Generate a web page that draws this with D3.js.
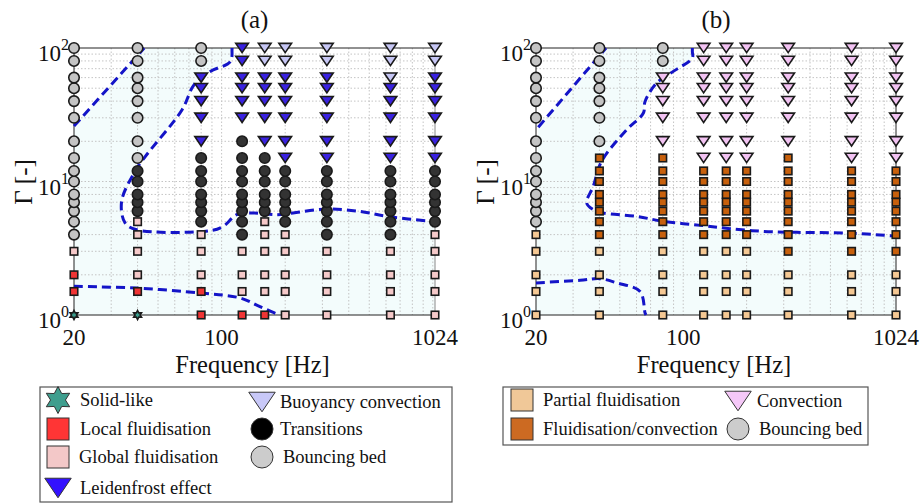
<!DOCTYPE html>
<html><head><meta charset="utf-8">
<script src="https://cdn.jsdelivr.net/npm/d3@7"></script>
<style>
html,body{margin:0;padding:0;background:#fff;}
svg text{font-family:'Liberation Serif','Times New Roman',Times,serif;fill:#111;}
</style></head>
<body><svg id="chart" width="920" height="504"></svg>
<script>
// ---------------- DATA ----------------
const freqs = [20, 40, 80, 125, 160, 200, 315, 630, 1024];
const gammaLevels = [1, 1.5, 2, 3, 4, 5, 6, 7, 8, 10, 12, 15, 20, 30, 40, 50, 60, 80, 100];
const xTickLabels = ["20", "100", "1024"];
const xTickValues = [20, 100, 1024];
const yTickValues = [1, 10, 100];
const yTickExponents = ["0", "1", "2"];

// Panel (a) regime per column (bottom→top, one code per gamma level)
// S solid-like, L local fl., G global fl., F Leidenfrost, B buoyancy conv., T transitions, O bouncing bed
const regimesA = [
  "SLLGOOOOOOOOOOOOOOO",
  "SLGGGGTTTTTOOOOOOOO",
  "LLGGGTTTTTTTFFFFFOO",
  "LGGGTTTTTTTTTFFFFFF",
  "LGGGGGTTTTTTFFFFFBB",
  "GGGGGTTTTTTFFFFFFBB",
  "GGGGTTTTTTTFFFFFFBB",
  "GGGGTTTTTTTFFFFFBBB",
  "GGGGGTTTTTTFFFFFFBB"
];
// Panel (b): P partial fl., C fluidisation/convection, V convection, O bouncing bed
const regimesB = [
  "PPPPPOOOOOOOOOOOOOO",
  "PPPPCCCCCCCCOOOOOOO",
  "PPPPCCCCCCCCVVVVVOO",
  "PPPPCCCCCCCVVVVVVVV",
  "PPPPCCCCCCCVVVVVVVV",
  "PPPPCCCCCCCVVVVVVVV",
  "PPPCCCCCCCCCVVVVVVV",
  "PPPCCCCCCCCVVVVVVVV",
  "PPPCCCCCCCCVVVVVVVV"
];

// Dashed regime boundaries [frequency, gamma]
const boundaryA1 = [[20, 26], [43, 100]];
const boundaryA2 = [[112, 100], [112, 97], [110, 79], [88, 66.5], [74, 53], [65, 34.5], [43.4, 15.3], [38.9, 11.9],
  [33.6, 7.1], [34.9, 4.9], [39.6, 4.35], [88, 4.28], [101.5, 4.6], [118, 5.64], [141, 5.81], [182, 5.64],
  [218, 5.81], [315, 6.22], [452, 5.97], [605, 5.48], [1024, 5.0]];
const boundaryA3 = [[20, 1.64], [39.6, 1.59], [79.6, 1.46], [122.6, 1.34], [151, 1.16], [182, 1.02], [189, 1.0]];

const boundaryB1 = [[20.5, 25.5], [43, 100]];
const boundaryB2 = [[110.5, 100], [110.5, 94], [110.5, 84], [89.7, 66.8], [74.8, 54.7], [65.9, 39.8], [64.7, 32.6],
  [53.9, 24.4], [41, 14.2], [37.4, 9.2], [34.8, 6.9], [37.4, 6.15], [41.7, 5.81], [60.1, 5.48], [80.5, 5.03],
  [124.6, 4.67], [166.8, 4.43], [240, 4.23], [346, 4.16], [598, 4.11], [1024, 3.9]];
const boundaryB3 = [[20, 1.74], [32.4, 1.82], [40.3, 1.87], [48.3, 1.74], [62.4, 1.5], [65.9, 1.035], [66.6, 1.0]];

const legendA = [
  {code: "S", label: "Solid-like"},
  {code: "L", label: "Local fluidisation"},
  {code: "G", label: "Global fluidisation"},
  {code: "F", label: "Leidenfrost effect"},
  {code: "B", label: "Buoyancy convection"},
  {code: "T", label: "Transitions"},
  {code: "O", label: "Bouncing bed"}
];
const legendB = [
  {code: "P", label: "Partial fluidisation"},
  {code: "C", label: "Fluidisation/convection"},
  {code: "V", label: "Convection"},
  {code: "O", label: "Bouncing bed"}
];

// ---------------- STYLE ----------------
const FONT = "'Liberation Serif', 'Times New Roman', Times, serif";
const style = {
  S: {shape: "hex", fill: "#3a9c8c", legendFill: "#3f9e8e"},
  L: {shape: "square", fill: "#f03434", legendFill: "#ff3535"},
  G: {shape: "square", fill: "#f5c9c9", legendFill: "#f3c8c8"},
  F: {shape: "tri", fill: "#3a22e0", legendFill: "#3311ff"},
  B: {shape: "tri", fill: "#c6c6f4", legendFill: "#c8c8f8"},
  T: {shape: "circle", fill: "#333333", legendFill: "#000000"},
  O: {shape: "circle", fill: "#c4c4c4", legendFill: "#cccccc"},
  P: {shape: "square", fill: "#f5c893", legendFill: "#f0c898"},
  C: {shape: "square", fill: "#c8600c", legendFill: "#cc6a22"},
  V: {shape: "tri", fill: "#f2c2f2", legendFill: "#f5c8f8"}
};

const svg = d3.select("#chart");

function hexPath(r) {
  const pts = [];
  for (let i = 0; i < 12; i++) {
    const a = -Math.PI / 2 + i * Math.PI / 6;
    const rr = i % 2 === 0 ? r : r * 0.55;
    pts.push([rr * Math.cos(a), rr * Math.sin(a)]);
  }
  return "M" + pts.map(p => p.join(",")).join("L") + "Z";
}

function drawMarker(g, shape, cx, cy, size, fill, stroke, sw) {
  let el;
  if (shape === "circle") {
    el = g.append("circle").attr("cx", cx).attr("cy", cy).attr("r", size / 2);
  } else if (shape === "square") {
    el = g.append("rect").attr("x", cx - size / 2).attr("y", cy - size / 2).attr("width", size).attr("height", size);
  } else if (shape === "tri") {
    const w = size * 1.15, h = size * 0.85;
    el = g.append("path").attr("d", `M${cx - w / 2},${cy - h / 2}L${cx + w / 2},${cy - h / 2}L${cx},${cy + h / 2}Z`);
  } else {
    el = g.append("path").attr("d", hexPath(size / 2)).attr("transform", `translate(${cx},${cy})`);
  }
  el.attr("fill", fill).attr("stroke", stroke).attr("stroke-width", sw).attr("stroke-linejoin", "miter");
  return el;
}

const markerSize = {circle: 10.5, square: 7.5, tri: 11, hex: 9};

function panel(opts) {
  const {x0, x1, y0, y1, regimes, bounds, title, rightColor} = opts;
  const x = d3.scaleLog().domain([20, 1024]).range([x0, x1]);
  const y = d3.scaleLog().domain([1, 100]).range([y1, y0]);
  const g = svg.append("g").attr("font-family", FONT);

  // faint cyan fill
  const fillPts = [...bounds[0], ...bounds[1], [1024, 1], [20, 1]];
  g.append("path")
    .attr("d", d3.line().x(d => x(d[0])).y(d => y(d[1]))(fillPts) + "Z")
    .attr("fill", "#f3fcfc");

  // grid
  const xGrid = [30, 40, 50, 60, 70, 80, 90, 100, 200, 300, 400, 500, 600, 700, 800, 900, 1000];
  const yGrid = [2, 3, 4, 5, 6, 7, 8, 9, 10, 20, 30, 40, 50, 60, 70, 80, 90];
  g.selectAll(".vg").data(xGrid).enter().append("line")
    .attr("x1", d => x(d)).attr("x2", d => x(d)).attr("y1", y0).attr("y2", y1)
    .attr("stroke", "#c4c4c4").attr("stroke-width", 1).attr("stroke-dasharray", "1.5,2");
  g.selectAll(".hg").data(yGrid).enter().append("line")
    .attr("y1", d => y(d)).attr("y2", d => y(d)).attr("x1", x0).attr("x2", x1)
    .attr("stroke", "#c4c4c4").attr("stroke-width", 1).attr("stroke-dasharray", "1.5,2");

  // axes box
  g.append("line").attr("x1", x0).attr("x2", x1).attr("y1", y0).attr("y2", y0).attr("stroke", "#222");
  g.append("line").attr("x1", x0).attr("x2", x1).attr("y1", y1).attr("y2", y1).attr("stroke", "#222");
  g.append("line").attr("x1", x0).attr("x2", x0).attr("y1", y0).attr("y2", y1).attr("stroke", "#222");
  g.append("line").attr("x1", x1).attr("x2", x1).attr("y1", y0).attr("y2", y1).attr("stroke", rightColor);

  // dashed boundaries
  const line = d3.line().x(d => x(d[0])).y(d => y(d[1])).curve(d3.curveCatmullRom.alpha(0.5));
  bounds.forEach(b => {
    g.append("path").attr("d", line(b)).attr("fill", "none")
      .attr("stroke", "#1414c8").attr("stroke-width", 3).attr("stroke-dasharray", "9,5");
  });

  // markers
  const mg = g.append("g");
  regimes.forEach((col, ci) => {
    col.split("").forEach((code, gi) => {
      const st = style[code];
      drawMarker(mg, st.shape, x(freqs[ci]), y(gammaLevels[gi]), markerSize[st.shape], st.fill, "#1a1a1a", 1.6);
    });
  });

  // tick labels
  g.selectAll(".xt").data(xTickValues).enter().append("text")
    .attr("x", d => x(d)).attr("y", 345).attr("text-anchor", "middle").attr("font-size", 23)
    .attr("font-family", FONT)
    .text((d, i) => xTickLabels[i]);
  yTickValues.forEach((v, i) => {
    const t = g.append("text").attr("x", x0 - 5).attr("y", y(v) + 13).attr("text-anchor", "end")
      .attr("font-size", 23).attr("font-family", FONT);
    t.append("tspan").text("10");
    t.append("tspan").attr("dy", -11).attr("font-size", 16).text(yTickExponents[i]);
  });

  // titles
  const cx = (x0 + x1) / 2;
  g.append("text").attr("x", cx).attr("y", 28).attr("text-anchor", "middle").attr("font-size", 25)
    .attr("font-family", FONT).text(title);
  g.append("text").attr("x", cx - 2).attr("y", 373).attr("text-anchor", "middle").attr("font-size", 24.5)
    .attr("font-family", FONT).text("Frequency [Hz]");
  g.append("text").attr("transform", `translate(${x0 - 42},182) rotate(-90)`).attr("text-anchor", "middle")
    .attr("font-size", 25).attr("font-family", FONT).text("Γ [-]");
}

panel({x0: 74, x1: 435, y0: 48, y1: 315, regimes: regimesA,
  bounds: [boundaryA1, boundaryA2, boundaryA3], title: "(a)", rightColor: "#888"});
panel({x0: 536, x1: 896, y0: 48, y1: 315, regimes: regimesB,
  bounds: [boundaryB1, boundaryB2, boundaryB3], title: "(b)", rightColor: "#222"});

// ---------------- LEGENDS ----------------
const legSize = {circle: 22, square: 22, tri: 23, hex: 27};
function legend(box, items, layout) {
  const g = svg.append("g").attr("font-family", FONT);
  g.append("rect").attr("x", box[0]).attr("y", box[1]).attr("width", box[2]).attr("height", box[3])
    .attr("fill", "#fff").attr("stroke", "#555").attr("stroke-width", 1.2);
  items.forEach((it, i) => {
    const L = layout[i];
    const st = style[it.code];
    drawMarker(g, st.shape, L.mx, L.my, legSize[st.shape], st.legendFill, "#333", 1);
    g.append("text").attr("x", L.tx).attr("y", L.my + 6).attr("font-size", 18.5)
      .attr("font-family", FONT).text(it.label);
  });
}
legend([40, 387, 412, 115], legendA, [
  {mx: 58, my: 400, tx: 80},
  {mx: 58, my: 429, tx: 80},
  {mx: 58, my: 457, tx: 79},
  {mx: 58, my: 488, tx: 80},
  {mx: 262, my: 402, tx: 280},
  {mx: 262, my: 429, tx: 280},
  {mx: 262, my: 457, tx: 283}
]);
legend([503, 387, 365, 58], legendB, [
  {mx: 522, my: 400, tx: 543},
  {mx: 522, my: 429, tx: 543},
  {mx: 738, my: 401, tx: 757},
  {mx: 738, my: 429, tx: 759}
]);
</script></body></html>
